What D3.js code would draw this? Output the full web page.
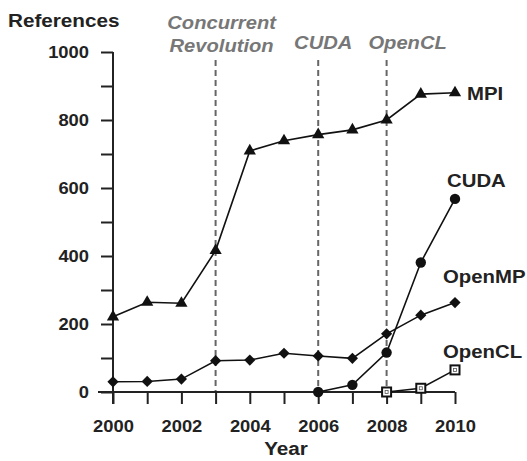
<!DOCTYPE html>
<html>
<head>
<meta charset="utf-8">
<script src="https://cdn.jsdelivr.net/npm/d3@7"></script>
<style>
  body { margin: 0; background: #fff; }
  text { font-family: "Liberation Sans", Arial, sans-serif; font-weight: bold; fill: #222; }
</style>
</head>
<body>
<script>
// data
var years = [2000, 2001, 2002, 2003, 2004, 2005, 2006, 2007, 2008, 2009, 2010]
var mpi = [221, 264, 261, 416, 709, 739, 757, 771, 800, 876, 880]
var openmp = [30, 31, 38, 92, 94, 114, 106, 99, 171, 226, 263]
var cudaYears = [2006, 2007, 2008, 2009, 2010]
var cuda = [0, 21, 116, 381, 568]
var openclYears = [2008, 2009, 2010]
var opencl = [0, 11, 65]
var events = [2003, 2006, 2008]
var eventLabels = [["Concurrent", "Revolution"], ["CUDA"], ["OpenCL"]]
var yTicks = [0, 100, 200, 300, 400, 500, 600, 700, 800, 900, 1000]

var W = 527, H = 461
var margin = {top: 52, left: 113}
var width = 342, height = 340

var svg = d3.select("body").append("svg")
  .attr("width", W).attr("height", H)
var g = svg.append("g").attr("transform", "translate(" + margin.left + "," + margin.top + ")")

var x = d3.scaleLinear().domain([2000, 2010]).range([0, width])
var y = d3.scaleLinear().domain([0, 1000]).range([height, 0])

// the lettering in the original is a bit wide, so squeeze it out sideways
function stretchText(sel, k) {
  sel.each(function() {
    var t = d3.select(this)
    var x0 = +t.attr("x") || 0
    t.attr("x", x0 / k).attr("transform", "scale(" + k + ",1)")
  })
}

// event lines
g.selectAll(".event").data(events).enter().append("line")
  .attr("x1", d => x(d)).attr("x2", d => x(d))
  .attr("y1", 8).attr("y2", y(0))
  .attr("stroke", "#666").attr("stroke-width", 2)
  .attr("stroke-dasharray", "6,4")

// event labels
var evShift = [6, 5, 21]
events.forEach(function(ev, i) {
  var lines = eventLabels[i]
  lines.forEach(function(s, j) {
    var base = lines.length == 2 ? [29, 52][j] : 49
    svg.append("text")
      .attr("transform", "translate(" + (margin.left + x(ev) + evShift[i]) + "," + base + ") scale(1.12,1)")
      .attr("text-anchor", "middle")
      .attr("font-size", 18).attr("font-style", "italic")
      .style("fill", "#777")
      .text(s)
  })
})

// axes
var yAxis = g.append("g")
  .call(d3.axisLeft(y).tickValues(yTicks).tickSize(12).tickSizeOuter(0)
    .tickFormat(d => d % 200 == 0 ? d : ""))
yAxis.select(".domain").remove()
yAxis.append("line").attr("y1", y(1000)).attr("y2", height + 12)
  .attr("stroke", "#222").attr("stroke-width", 2)
yAxis.selectAll(".tick line").attr("stroke", "#222").attr("stroke-width", 2)
yAxis.selectAll(".tick text").attr("font-size", 17).attr("x", -24).attr("fill", "#222")
  .call(stretchText, 1.08)

var xAxis = g.append("g").attr("transform", "translate(0," + height + ")")
  .call(d3.axisBottom(x).tickValues(years).tickSize(12).tickSizeOuter(0)
    .tickFormat(d => d % 2 == 0 ? d : ""))
xAxis.select(".domain").remove()
xAxis.append("line").attr("x1", -15).attr("x2", x(2010))
  .attr("stroke", "#222").attr("stroke-width", 2)
xAxis.selectAll(".tick line").attr("stroke", "#222").attr("stroke-width", 2)
xAxis.selectAll(".tick text").attr("font-size", 17).attr("y", 40).attr("dy", 0).attr("fill", "#222")
  .call(stretchText, 1.08)

svg.append("text")
  .attr("transform", "translate(8,27) scale(1.15,1)")
  .attr("font-size", 18).text("References")
svg.append("text")
  .attr("transform", "translate(" + (margin.left + x(2005) + 2) + ",455) scale(1.12,1)")
  .attr("text-anchor", "middle").attr("font-size", 18.5).text("Year")

// series
var line = d3.line().x(d => x(d[0])).y(d => y(d[1]))
function pairs(xs, vs) { return xs.map((d, i) => [d, vs[i]]) }

var series = [
  {name: "MPI", data: pairs(years, mpi), marker: d3.symbolTriangle, size: 65, lx: 467, ly: 100},
  {name: "OpenMP", data: pairs(years, openmp), marker: d3.symbolDiamond2, size: 80, lx: 443, ly: 283},
  {name: "CUDA", data: pairs(cudaYears, cuda), marker: d3.symbolCircle, size: 85, lx: 447, ly: 187},
  {name: "OpenCL", data: pairs(openclYears, opencl), marker: "square", lx: 443, ly: 358}
]

series.forEach(function(s) {
  g.append("path").datum(s.data).attr("d", line)
    .attr("fill", "none").attr("stroke", "#111").attr("stroke-width", 1.6)
  var pts = g.selectAll(null).data(s.data).enter()
  if (s.marker == "square") {
    pts.append("rect")
      .attr("x", d => x(d[0]) - 4.5).attr("y", d => y(d[1]) - 4.5)
      .attr("width", 9).attr("height", 9)
      .attr("fill", "#fff").attr("stroke", "#111").attr("stroke-width", 2)
    g.selectAll(null).data(s.data).enter().append("rect")
      .attr("x", d => x(d[0]) - 1.5).attr("y", d => y(d[1]) - 1.5)
      .attr("width", 3).attr("height", 3)
      .attr("fill", "none").attr("stroke", "#555").attr("stroke-width", 0.8)
  } else {
    pts.append("path")
      .attr("d", d3.symbol().type(s.marker).size(s.size))
      .attr("transform", d => "translate(" + x(d[0]) + "," + y(d[1]) + ")")
      .attr("fill", "#111")
  }
  svg.append("text")
    .attr("transform", "translate(" + s.lx + "," + s.ly + ") scale(1.1,1)")
    .attr("font-size", 18.5).text(s.name)
})
</script>
</body>
</html>
